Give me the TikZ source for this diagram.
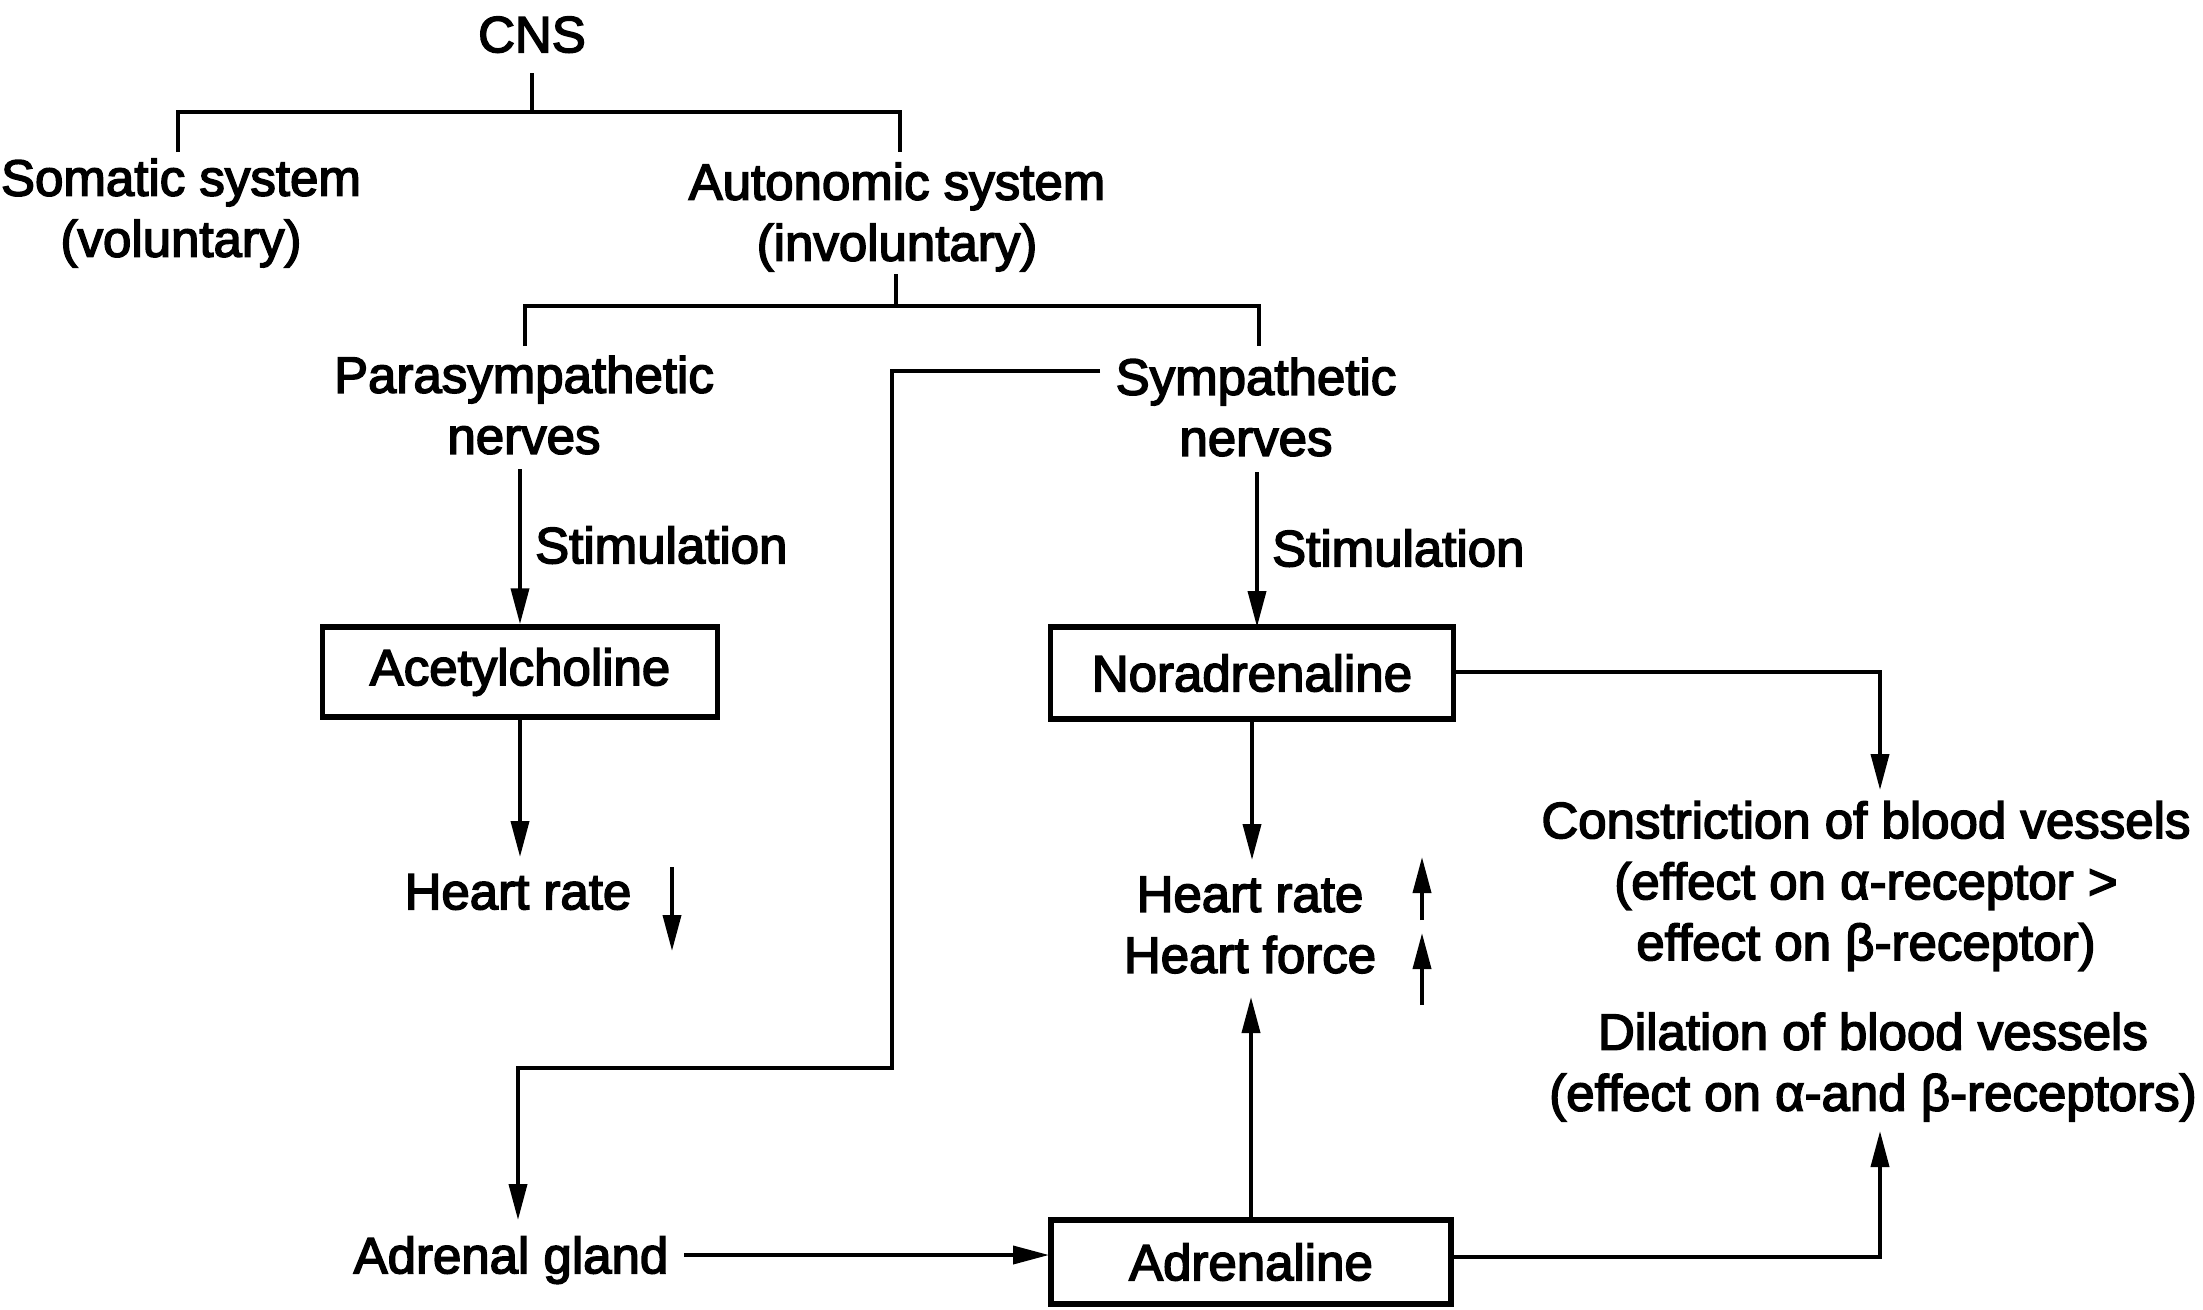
\documentclass[tikz,border=0pt]{standalone}
\usepackage{fontspec}
\usetikzlibrary{arrows.meta}
\newfontfamily\diafont{Liberation Sans}[FakeBold=3]
\begin{document}
\begin{tikzpicture}[x=1pt,y=-1pt,
  txt/.style={font=\diafont\fontsize{51}{61}\selectfont, inner sep=0pt, align=center},
  one/.style={txt, text height=36.5pt, text depth=0pt},
  box/.style={draw, line width=5.5pt, inner sep=0pt, font=\diafont\fontsize{51}{61}\selectfont},
  ln/.style={line width=3.8pt},
  arr/.style={ln, -{Triangle[length=36pt,width=18pt]}}
]
\useasboundingbox (0,0) rectangle (2203,1309);

% text nodes
\node[one] (cns) at (532,34) {CNS};
\node[txt] (som) at (181,213) {Somatic system\\(voluntary)};
\node[txt] (aut) at (897,217) {Autonomic system\\(involuntary)};
\node[txt] (para) at (524,405) {Parasympathetic\\nerves};
\node[txt] (symp) at (1256,407) {Sympathetic\\nerves};
\node[one, anchor=west] (stl) at (535,545) {Stimulation};
\node[one, anchor=west] (str) at (1272,548) {Stimulation};
\node[box, minimum width=395pt, minimum height=90pt] (ach) at (520,672) {Acetylcholine};
\node[box, minimum width=403pt, minimum height=92pt] (nor) at (1252,673) {Noradrenaline};
\node[box, minimum width=400pt, minimum height=84pt] (adr) at (1251,1262) {Adrenaline};
\node[one] (hrl) at (518,891) {Heart rate};
\node[txt] (hrr) at (1250,925) {Heart rate\\Heart force};
\node[txt] (con) at (1866,886) {Constriction of blood vessels\\(effect on α-receptor >\\effect on β-receptor)};
\node[txt] (dil) at (1873,1067) {Dilation of blood vessels\\(effect on α-and β-receptors)};
\node[one] (adg) at (511,1255) {Adrenal gland};

% tree connectors
\coordinate (c0) at (532,73);
\coordinate (c1) at (532,112);
\coordinate (sl) at (178,152);
\coordinate (sr) at (900,152);
\draw[ln] (c0) -- (c1);
\draw[ln] (sl) |- (c1) -| (sr);
\coordinate (a0) at (896,274);
\coordinate (a1) at (896,306);
\coordinate (pl) at (525,346);
\coordinate (pr) at (1259,346);
\draw[ln] (a0) -- (a1);
\draw[ln] (pl) |- (a1) -| (pr);

% arrows
\draw[arr] (520,469) -- (ach.north);
\draw[arr] (1257,472) -- (1257,627);
\draw[arr] (ach.south) -- (520,857);
\draw[arr] (672,867) -- (672,951);
\draw[arr] (1252,719) -- (1252,860);
\draw[arr] (1422,920) -- (1422,857);
\draw[arr] (1422,1005) -- (1422,933);
\draw[arr] (1454,672) -| (1880,790);
\draw[arr] (1251,1220) -- (1251,997);
\draw[arr] (1451,1257) -| (1880,1131);
\draw[arr] (684,1255) -- (1049,1255);
\draw[arr] (1100,371) -- (892,371) -- (892,1068) -- (518,1068) -- (518,1220);
\end{tikzpicture}
\end{document}
